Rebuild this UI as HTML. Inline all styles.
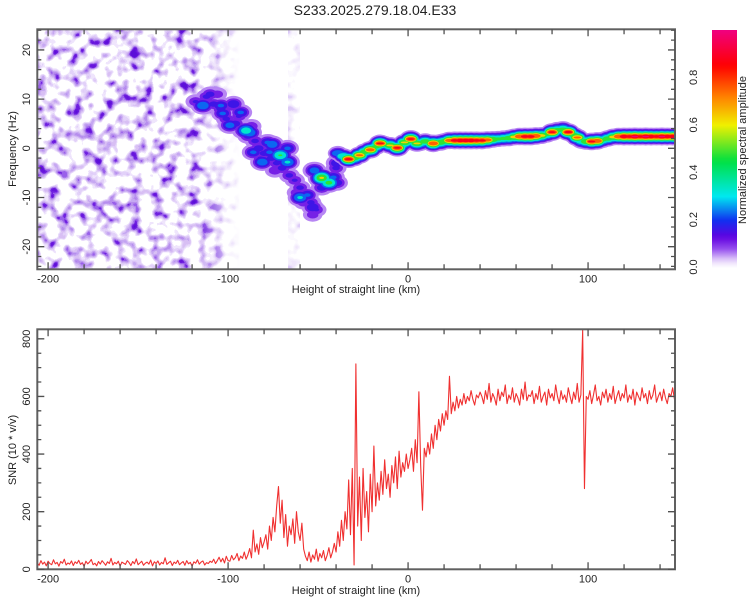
<!DOCTYPE html>
<html><head><meta charset="utf-8"><style>
html,body{margin:0;padding:0;background:#fff;}
svg{display:block;font-family:"Liberation Sans",sans-serif;}
</style></head><body>
<svg id="chart" width="750" height="600" viewBox="0 0 750 600">
<defs>
  <clipPath id="clipTop"><rect x="38" y="29.3" width="637" height="240"/></clipPath>
  <clipPath id="clipBot"><rect x="38" y="329.3" width="637" height="240"/></clipPath>
  <filter id="noiseF" filterUnits="userSpaceOnUse" x="38" y="29" width="280" height="241" color-interpolation-filters="sRGB">
    <feTurbulence type="fractalNoise" baseFrequency="0.085" numOctaves="2" seed="11"/>
    <feColorMatrix type="matrix" values="1 0 0 0 0  1 0 0 0 0  1 0 0 0 0  0 0 0 0 1"/>
    <feComponentTransfer>
      <feFuncR type="discrete" tableValues="1 1 1 1 1 1 1 1 1 1 1 1 0.94 0.89 0.85 0.78 0.72 0.60 0.44 0.40 0.36 0.36 0.36 0.36 0.36"/>
      <feFuncG type="discrete" tableValues="1 1 1 1 1 1 1 1 1 1 1 1 0.90 0.82 0.75 0.66 0.56 0.38 0.13 0.08 0.06 0.06 0.06 0.06 0.06"/>
      <feFuncB type="discrete" tableValues="1 1 1 1 1 1 1 1 1 1 1 1 0.99 0.98 0.96 0.95 0.93 0.92 0.88 0.86 0.85 0.85 0.85 0.85 0.85"/>
    </feComponentTransfer>
  </filter>
  <linearGradient id="fadeG" gradientUnits="userSpaceOnUse" x1="195" y1="0" x2="240" y2="0">
    <stop offset="0" stop-color="#fff"/><stop offset="1" stop-color="#000"/>
  </linearGradient>
  <mask id="noiseMask" maskUnits="userSpaceOnUse" x="0" y="0" width="750" height="600">
    <rect x="38" y="29" width="210" height="241" fill="url(#fadeG)"/>
    <rect x="288" y="29" width="12" height="241" fill="#3a3a3a"/>
  </mask>
  <linearGradient id="cbarG"></linearGradient>
</defs>

<text x="375" y="15" text-anchor="middle" font-size="14" fill="#222">S233.2025.279.18.04.E33</text>

<g id="topPlot">
  <g clip-path="url(#clipTop)">
    <rect x="38" y="29" width="280" height="241" filter="url(#noiseF)" mask="url(#noiseMask)"/>
    <g id="trailG"></g>
    <g id="ridgeG"></g>
  </g>
  <g id="topAxes"></g>
  <text x="356" y="293" text-anchor="middle" font-size="11" fill="#222">Height of straight line (km)</text>
  <text transform="translate(16,149) rotate(-90)" text-anchor="middle" font-size="11" fill="#222">Frequency (Hz)</text>
</g>

<g id="colorbar">
  <rect id="cbRect" x="712" y="30" width="25" height="238"/>
  <g id="cbLabels"></g>
  <text transform="translate(746,150) rotate(-90)" text-anchor="middle" font-size="11" fill="#222">Normalized spectral amplitude</text>
</g>

<g id="botPlot">
  <g clip-path="url(#clipBot)"><polyline id="snrLine" fill="none" stroke="#f03030" stroke-width="1.1" stroke-linejoin="round"/></g>
  <g id="botAxes"></g>
  <text x="356" y="594" text-anchor="middle" font-size="11" fill="#222">Height of straight line (km)</text>
  <text transform="translate(16,450) rotate(-90)" text-anchor="middle" font-size="11" fill="#222">SNR (10 * v/v)</text>
</g>
</svg>
<script>
// ---- data ----
const ridgeKm   = [-39,-36,-33,-30,-27,-24,-21,-18,-15.5,-13,-10,-8,-6,-4,-2,0,1.5,3,5,7,9.5,12,14,16,18,20,23,26,29,32,35,38,41,44,47,50,53,56,59,62,65,68,71,74,77,80,83,86,89,92,94,96.5,99,102,105,108,111,114,117,120,123,126,129,132,135,138,141,144,147,150];
const ridgeFreq = [-1.0,-1.6,-2.2,-2.0,-1.4,-0.7,-0.3,0.3,1.0,0.9,0.6,0.3,0.1,0.6,1.2,1.4,1.9,1.5,1.0,1.1,1.4,1.2,1.0,1.1,1.2,1.4,1.6,1.6,1.6,1.6,1.6,1.6,1.6,1.7,1.8,1.9,2.0,2.1,2.3,2.4,2.4,2.4,2.5,2.6,2.8,3.3,3.7,3.9,3.3,2.7,2.2,1.5,1.4,1.4,1.5,1.7,2.0,2.3,2.4,2.4,2.4,2.4,2.4,2.4,2.4,2.4,2.4,2.4,2.4,2.4];
const ridgeAmp  = [0.30,0.45,0.90,0.55,0.75,0.55,0.80,0.50,0.88,0.45,0.62,0.50,0.88,0.45,0.62,0.45,0.88,0.45,0.62,0.45,0.55,0.45,0.85,0.50,0.58,0.55,0.80,0.92,0.95,0.95,0.95,0.92,0.90,0.80,0.60,0.50,0.50,0.55,0.65,0.85,0.92,0.92,0.85,0.65,0.50,0.88,0.55,0.50,0.90,0.55,0.75,0.45,0.60,0.88,0.85,0.50,0.55,0.65,0.85,0.95,0.92,0.97,0.92,0.97,0.95,0.92,0.97,0.95,0.95,0.95];

const blobKm   = [-118,-112,-108,-104,-101,-96,-92,-89,-85,-83,-80,-76,-73,-70,-66,-63,-60,-57,-54,-51,-48,-45,-42,-40,-106,-98,-94,-87,-82,-78,-74,-69,-62,-58,-53,-114,-110,-104,-103,-99,-97,-93,-90,-88,-86,-81,-78,-75.5,-77,-71,-67,-67,-60,-56,-53,-52,-48,-44,-41.5,-39.5,-39.5];
const blobFreq = [9.5,10.5,9,8,6,5,3.5,2.5,1.5,0,-1,-2,-3,-4,-5.5,-6.5,-8,-9.5,-11,-12.5,-8,-7,-6.5,-4,11,8.5,6.5,4.5,-2,0,-4.5,-2,-9,-11,-13.5,8.7,11,8.7,7.1,4.7,9,7.3,3.6,3.2,-0.8,-2.8,1.2,0.8,-0.8,-1.4,0,-2.8,-10,-9.5,-12,-4.5,-6,-7,-5.9,-3,-7];
const blobAmp  = [0.14,0.15,0.16,0.16,0.15,0.17,0.16,0.16,0.15,0.17,0.16,0.16,0.15,0.16,0.15,0.14,0.15,0.16,0.15,0.14,0.17,0.16,0.16,0.15,0.12,0.13,0.14,0.13,0.14,0.13,0.13,0.14,0.12,0.13,0.12,0.30,0.16,0.22,0.22,0.25,0.20,0.22,0.40,0.30,0.22,0.28,0.22,0.28,0.22,0.46,0.22,0.32,0.32,0.22,0.20,0.26,0.62,0.50,0.22,0.20,0.18];

const snrStart = -206;
const snrVals = [
22,14,30,18,25,12,28,20,16,33,19,24,11,27,21,35,15,22,18,29,13,26,20,31,17,23,10,28,19,25,
34,16,21,12,27,18,30,22,14,26,20,38,15,24,19,28,11,25,21,17,30,23,13,27,19,36,16,22,28,14,
21,25,18,32,12,26,20,29,15,24,19,40,17,23,28,13,25,20,31,16,22,27,14,30,19,24,11,26,21,33,
18,25,29,15,23,20,28,
24,35,20,30,42,26,38,22,45,30,28,48,33,40,55,30,46,38,60,35,
50,72,40,136,60,88,52,110,75,95,
120,70,150,100,180,130,220,287,160,240,
110,190,80,150,120,175,90,200,130,100,160,70,
45,30,60,25,50,35,70,28,55,40,65,30,48,75,40,60,
90,60,130,80,170,100,200,140,310,120,350,15,
713,150,320,100,350,180,270,130,330,200,
428,220,300,240,340,260,380,280,330,250,
360,300,390,280,410,320,370,340,400,350,
380,420,340,450,370,616,360,205,420,390,
440,400,470,420,500,450,520,480,540,500,
550,520,670,540,580,550,600,560,590,570,
610,575,600,585,620,590,570,605,595,615,
600,575,620,590,645,580,610,595,570,625,585,615,600,640,575,605,590,630,580,610,
595,570,625,590,650,585,605,600,620,575,610,590,635,580,600,615,570,625,595,610,
585,640,600,575,620,590,605,580,630,600,575,615,590,645,580,605,
830,280,600,
590,620,575,605,640,585,600,570,615,595,625,580,610,590,635,575,600,620,585,610,
595,640,580,605,590,625,570,615,600,585,630,595,610,575,620,590,605,640,580,600,
615,585,625,595,575,610,600,630,590];

const xTicks = [-200,-100,0,100];
const xTickLabels = ["-200","-100","0","100"];
const fTicks = [-20,-10,0,10,20];
const fTickLabels = ["-20","-10","0","10","20"];
const sTicks = [0,200,400,600,800];
const sTickLabels = ["0","200","400","600","800"];
const cbTicks = [0,0.2,0.4,0.6,0.8];
const cbTickLabels = ["0.0","0.2","0.4","0.6","0.8"];

// ---- scales ----
const X0=37.3, X1=675, KM0=-206, KM1=148.3;
const xS = km => X0 + (km-KM0)*(X1-X0)/(KM1-KM0);
const fS = f => 29.3 + (24.2-f)*(269.3-29.3)/48.8;
const sS = v => 329.3 + (833-v)*(569.3-329.3)/833;
const cbS = v => 267 - v*237;

const NS="http://www.w3.org/2000/svg";
function mk(tag, parent){ const e=document.createElementNS(NS,tag); parent.appendChild(e); return e; }

const cmapStops=[[0,[255,255,255]],[0.03,[232,216,250]],[0.08,[150,80,238]],[0.13,[96,0,224]],[0.2,[16,48,240]],[0.3,[0,232,240]],[0.45,[0,224,64]],[0.6,[240,240,0]],[0.72,[255,128,0]],[0.85,[255,0,0]],[1,[240,0,128]]];
function cmap(v){
  for(let i=1;i<cmapStops.length;i++){
    if(v<=cmapStops[i][0]){
      const [a,ca]=cmapStops[i-1],[b,cb]=cmapStops[i]; const t=(v-a)/(b-a);
      return 'rgb('+ca.map((c,k)=>Math.round(c+(cb[k]-c)*t)).join(',')+')';
    }
  }
  return 'rgb(240,0,128)';
}

// colorbar gradient
const grad=document.getElementById('cbarG');
grad.setAttribute('x1','0');grad.setAttribute('y1','1');grad.setAttribute('x2','0');grad.setAttribute('y2','0');
for(let v=0;v<=1.0001;v+=0.02){ const s=mk('stop',grad); s.setAttribute('offset',v.toFixed(2)); s.setAttribute('stop-color',cmap(v)); }
document.getElementById('cbRect').setAttribute('fill','url(#cbarG)');
const cbl=document.getElementById('cbLabels');
cbTicks.forEach((v,i)=>{
  const t=mk('text',cbl);
  t.setAttribute('transform','translate(697,'+cbS(v)+') rotate(-90)');
  t.setAttribute('text-anchor','middle'); t.setAttribute('font-size','11'); t.setAttribute('fill','#222');
  t.textContent=cbTickLabels[i];
  
  
});

// contour-like drawing
const levels=[0.03,0.08,0.13,0.2,0.3,0.45,0.6,0.72,0.85,0.95];
function drawField(g, kms, freqs, amps, sig, rxMul, rxAdd, name){
  levels.forEach(t=>{
    const col=cmap(Math.min(1,t+0.03));
    for(let i=0;i<kms.length;i++){
      const a=amps[i]; if(a<=t) continue;
      const d=sig*Math.sqrt(2*Math.log(a/t));
      const e=mk('ellipse',g);
      e.setAttribute('cx',xS(kms[i])); e.setAttribute('cy',fS(freqs[i]));
      e.setAttribute('rx',(d*rxMul+rxAdd).toFixed(2)); e.setAttribute('ry',d.toFixed(2));
      e.setAttribute('fill',col);
      
      
    }
  });
}
drawField(document.getElementById('trailG'), blobKm, blobFreq, blobAmp, 4.2, 1.25, 1, 'trail-blob');
drawField(document.getElementById('ridgeG'), ridgeKm, ridgeFreq, ridgeAmp, 3.4, 1.0, 2.8, 'ridge-segment');

// snr line
const pts=snrVals.map((v,i)=>xS(snrStart+i).toFixed(2)+','+sS(v).toFixed(2)).join(' ');
document.getElementById('snrLine').setAttribute('points',pts);

// axes
function axes(gid, yTop, yBot, yVals, yLabels, yScale, yMinor, yMin, yMax){
  const g=document.getElementById(gid);
  const fr=mk('rect',g);
  fr.setAttribute('x',X0);fr.setAttribute('y',yTop);fr.setAttribute('width',X1-X0);fr.setAttribute('height',yBot-yTop);
  fr.setAttribute('fill','none');fr.setAttribute('stroke','#606060');fr.setAttribute('stroke-width','2');
  
  
  let d='';
  for(let km=-200;km<=140;km+=20){
    const x=xS(km); const L=(km%100===0)?7:5;
    d+='M'+x+' '+yBot+'v'+(-L)+'M'+x+' '+yTop+'v'+L;
  }
  for(let v=yMin;v<=yMax+1e-6;v+=yMinor){
    const y=yScale(v); const major=yVals.some(q=>Math.abs(q-v)<1e-6); const L=major?7:4;
    d+='M'+X0+' '+y+'h'+L+'M'+X1+' '+y+'h'+(-L);
  }
  const p=mk('path',g); p.setAttribute('d',d); p.setAttribute('stroke','#505050'); p.setAttribute('stroke-width','1.3'); p.setAttribute('fill','none');
  
  
  xTicks.forEach((v,i)=>{
    const t=mk('text',g); t.setAttribute('x',xS(v)); t.setAttribute('y',yBot+13);
    t.setAttribute('text-anchor','middle'); t.setAttribute('font-size','11'); t.setAttribute('fill','#222');
    t.textContent=xTickLabels[i];
    
    
  });
  yVals.forEach((v,i)=>{
    const t=mk('text',g); t.setAttribute('transform','translate(30,'+yScale(v)+') rotate(-90)');
    t.setAttribute('text-anchor','middle'); t.setAttribute('font-size','11'); t.setAttribute('fill','#222');
    t.textContent=yLabels[i];
    
    
  });
}
axes('topAxes',29.3,269.3,fTicks,fTickLabels,fS,2,-24,24);
axes('botAxes',329.3,569.3,sTicks,sTickLabels,sS,50,0,800);
</script>
</body></html>
